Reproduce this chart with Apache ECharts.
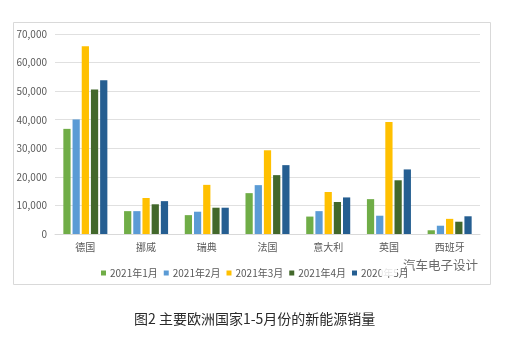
<!DOCTYPE html>
<html>
<head>
<meta charset="utf-8">
<script src="https://cdn.jsdelivr.net/npm/echarts@6/dist/echarts.min.js"></script>
<style>
  html, body { margin: 0; padding: 0; background: #ffffff; }
  #chart { width: 516px; height: 338px; }
</style>
</head>
<body>
<div id="chart"></div>
<script>
// Countries along the x axis
const countries = ['德国', '挪威', '瑞典', '法国', '意大利', '英国', '西班牙'];

// Monthly new-energy vehicle sales per country
const jan2021 = [36800, 8000, 6600, 14300, 6100, 12200, 1300];
const feb2021 = [40100, 8000, 7800, 17100, 8000, 6400, 2900];
const mar2021 = [65700, 12600, 17200, 29300, 14700, 39200, 5300];
const apr2021 = [50600, 10400, 9200, 20600, 11200, 18800, 4300];
const may2021 = [53800, 11500, 9200, 24100, 12800, 22600, 6200];

// Series names as printed in the legend
const seriesNames = ['2021年1月', '2021年2月', '2021年3月', '2021年4月', '2020年5月'];
const seriesData = [jan2021, feb2021, mar2021, apr2021, may2021];
const seriesColors = ['#70ad47', '#5b9bd5', '#ffc000', '#43682b', '#255e91'];

const FONT = '"Noto Sans CJK SC", "Noto Sans", sans-serif';

const chart = echarts.init(document.getElementById('chart'), null, { renderer: 'canvas' });

chart.setOption({
  backgroundColor: '#ffffff',
  animation: false,
  textStyle: { fontFamily: FONT },
  grid: { left: 55, top: 34, width: 425, height: 200, containLabel: false },
  legend: {
    data: seriesNames,
    left: 96,
    top: 263,
    itemWidth: 5,
    itemHeight: 5,
    itemGap: 6,
    icon: 'rect',
    textStyle: { fontSize: 10, color: '#595959', fontFamily: FONT, padding: [0, 0, 0, -1] }
  },
  xAxis: {
    type: 'category',
    data: countries,
    axisLine: { lineStyle: { color: '#d9d9d9', width: 1 } },
    axisTick: { show: false },
    axisLabel: { fontSize: 10, color: '#595959', margin: 8 }
  },
  yAxis: {
    type: 'value',
    min: 0,
    max: 70000,
    interval: 10000,
    axisLine: { show: false },
    axisTick: { show: false },
    splitLine: { lineStyle: { color: '#e0e0e0', width: 1 } },
    axisLabel: {
      fontSize: 10,
      color: '#595959',
      margin: 8,
      formatter: v => v.toLocaleString('en-US')
    }
  },
  series: seriesNames.map((name, i) => ({
    name,
    type: 'bar',
    data: seriesData[i],
    itemStyle: { color: seriesColors[i] },
    barGap: '27%',
    barCategoryGap: '27.5%'
  })),
  graphic: [
    // chart frame
    {
      type: 'rect',
      shape: { x: 13.5, y: 22.5, width: 477, height: 262 },
      style: { fill: 'none', stroke: '#d9d9d9', lineWidth: 1 },
      silent: true,
      z: -1
    },
    // publisher mark over the legend's right end
    {
      type: 'rect',
      shape: { x: 381, y: 262, width: 16, height: 14 },
      style: { fill: 'rgba(255,255,255,0.85)' },
      z: 100
    },
    {
      type: 'text',
      left: 403,
      top: 259,
      style: { text: '汽车电子设计', fontSize: 12.5, fill: '#6b6b6b', fontFamily: FONT },
      z: 101
    },
    // figure caption
    {
      type: 'text',
      left: 134,
      top: 312,
      style: { text: '图2 主要欧洲国家1-5月份的新能源销量', fontSize: 14, fill: '#2b2b2b', fontFamily: FONT },
      z: 101
    }
  ]
});
</script>
</body>
</html>
